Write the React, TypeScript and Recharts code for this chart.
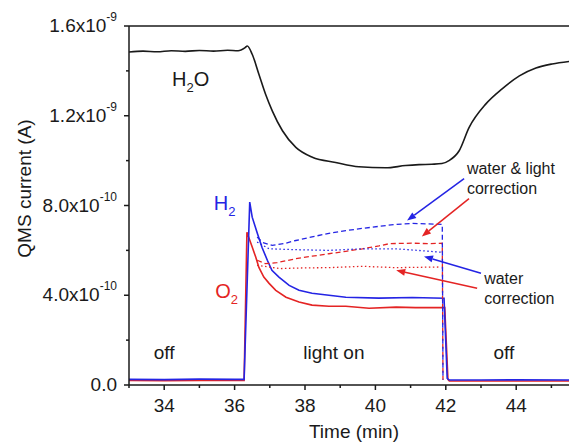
import React from 'react'
import { LineChart, Line, XAxis, YAxis, ReferenceLine, ReferenceDot, Label } from 'recharts'

const FONT = '"Liberation Sans", Arial, sans-serif'
const BLUE = '#2424e4'
const RED = '#e42424'
const INK = '#1a1a1a'

// axes: time in min, current in units of 1e-10 A
const X_TICKS = [33, 34, 35, 36, 37, 38, 39, 40, 41, 42, 43, 44, 45]
const Y_TICKS = [0, 2, 4, 6, 8, 10, 12, 14, 16]
const Y_LABELS: Record<number, [string, string]> = {
  0: ['0.0', ''], 4: ['4.0x10', '-10'], 8: ['8.0x10', '-10'], 12: ['1.2x10', '-9'], 16: ['1.6x10', '-9'],
}

// H2O
const h2oT = [33, 33.4, 33.8, 34.2, 34.6, 35.0, 35.4, 35.8, 36.1, 36.3, 36.36, 36.5, 36.69, 36.88, 37.07, 37.36, 37.74, 38.21, 38.87, 39.53, 40.29, 40.86, 41.24, 41.6, 41.89, 42.09, 42.38, 42.66, 43.14, 43.6, 44.09, 44.56, 45.02, 45.5]
const h2oV = [14.84, 14.88, 14.85, 14.9, 14.87, 14.91, 14.88, 14.92, 14.9, 15.04, 15.11, 14.74, 13.85, 12.96, 12.22, 11.33, 10.59, 10.15, 9.92, 9.73, 9.68, 9.78, 9.82, 9.84, 9.87, 10.0, 10.44, 11.47, 12.53, 13.2, 13.78, 14.13, 14.31, 14.42]

// H2 raw
const h2T = [33, 34, 35, 36, 36.27, 36.43, 36.5, 36.65, 36.78, 36.93, 37.06, 37.26, 37.55, 37.83, 38.2, 38.68, 39.16, 40.1, 41.05, 41.95, 42.04, 42.1, 43, 44, 45.5]
const h2V = [0.25, 0.24, 0.26, 0.25, 0.25, 8.15, 7.48, 6.74, 6.13, 5.56, 5.11, 4.81, 4.44, 4.22, 4.09, 4.0, 3.91, 3.87, 3.9, 3.87, 0.3, 0.22, 0.22, 0.23, 0.22]

// O2 raw
const o2T = [33, 34, 35, 36, 36.27, 36.35, 36.5, 36.6, 36.69, 36.83, 36.98, 37.17, 37.46, 37.83, 38.2, 38.68, 39.16, 39.82, 40.59, 41.14, 41.97, 42.06, 42.1, 43, 44, 45.5]
const o2V = [0.2, 0.19, 0.2, 0.2, 0.2, 6.81, 6.15, 5.7, 5.24, 4.81, 4.53, 4.22, 3.91, 3.7, 3.56, 3.51, 3.51, 3.42, 3.47, 3.45, 3.45, 0.25, 0.18, 0.18, 0.18, 0.18]

// water & light correction
const h2wlT = [36.64, 36.8, 37.07, 37.4, 37.74, 38.2, 38.68, 39.16, 39.63, 40.1, 40.58, 41.04, 41.5, 41.9, 41.92]
const h2wlV = [6.59, 6.35, 6.22, 6.3, 6.44, 6.6, 6.76, 6.88, 6.98, 7.07, 7.16, 7.2, 7.18, 7.16, 0.25]
const o2wlT = [36.64, 36.87, 37.2, 37.74, 38.2, 38.68, 39.16, 39.63, 40.1, 40.4, 41.04, 41.5, 41.9, 41.92]
const o2wlV = [5.56, 5.41, 5.45, 5.63, 5.74, 5.85, 5.96, 6.07, 6.2, 6.3, 6.32, 6.3, 6.32, 0.22]

// water correction
const h2wT = [36.64, 36.98, 37.74, 38.68, 39.63, 40.58, 41.2, 41.86]
const h2wV = [6.37, 6.07, 6.03, 6.0, 6.07, 6.07, 6.0, 5.92]
const o2wT = [36.64, 37.3, 38.0, 38.68, 39.63, 40.58, 41.86]
const o2wV = [5.33, 5.19, 5.22, 5.23, 5.29, 5.23, 5.26]

const zip = (t: number[], v: number[]) => t.map((x, i) => ({ t: x, v: v[i] }))

const TICK = 5
const MARGIN_Y = 7
const MARGIN_X = 8

const YTick = (p: any) => {
  const v = p.payload.value
  const ax = p.x + TICK + MARGIN_Y
  const major = v % 4 === 0
  const lab = Y_LABELS[v]
  return (
    <g>
      <line x1={ax - (major ? TICK : 3)} x2={ax} y1={p.y} y2={p.y} stroke={INK} strokeWidth={1.5} />
      {lab && (
        <text x={p.x} y={p.y + 6} textAnchor="end" fontFamily={FONT} fontSize={19} fill={INK}>
          {lab[0]}
          {lab[1] && <tspan dy={-11} fontSize={12}>{lab[1]}</tspan>}
        </text>
      )}
    </g>
  )
}

const XTick = (p: any) => {
  const v = p.payload.value
  const ay = p.y - TICK - MARGIN_X
  const major = v % 2 === 0
  return (
    <g>
      <line x1={p.x} x2={p.x} y1={ay} y2={ay + (major ? TICK : 3)} stroke={INK} strokeWidth={1.5} />
      {major && (
        <text x={p.x} y={p.y + 14} textAnchor="middle" fontFamily={FONT} fontSize={19} fill={INK}>{v}</text>
      )}
    </g>
  )
}

const note = (key: string, t: number, v: number, body: React.ReactNode, color = INK, size = 19, anchor = 'middle') => (
  <ReferenceDot key={key} x={t} y={v} r={0} ifOverflow="visible"
    shape={(p: any) => (
      <text x={p.cx} y={p.cy + size * 0.35} textAnchor={anchor} fontFamily={FONT} fontSize={size} fill={color}>{body}</text>
    )} />
)

const arrowShape = (color: string) => (p: any) => {
  const { x1, y1, x2, y2 } = p
  const a = Math.atan2(y2 - y1, x2 - x1)
  const L = 9, W = 3.5
  const bx = x2 - L * Math.cos(a), by = y2 - L * Math.sin(a)
  const pts = `${x2},${y2} ${bx - W * Math.sin(a)},${by + W * Math.cos(a)} ${bx + W * Math.sin(a)},${by - W * Math.cos(a)}`
  return (
    <g>
      <line x1={x1} y1={y1} x2={bx} y2={by} stroke={color} strokeWidth={1.5} />
      <polygon points={pts} fill={color} />
    </g>
  )
}

const arrow = (key: string, from: [number, number], to: [number, number], color: string) => (
  <ReferenceLine key={key} ifOverflow="visible"
    segment={[{ x: from[0], y: from[1] }, { x: to[0], y: to[1] }]}
    shape={arrowShape(color)} />
)

const sub = (a: string, b: string, c = '') => (
  <>
    {a}<tspan dy={6} fontSize={13}>{b}</tspan>{c && <tspan dy={-6}>{c}</tspan>}
  </>
)

export default function App() {
  return (
    <div style={{ position: 'absolute', left: 0, top: 0, background: '#fff' }}>
      <LineChart width={569} height={443} margin={{ top: 26, right: 0, bottom: 0, left: 0 }}>
        <XAxis type="number" dataKey="t" domain={[33, 45.5]} ticks={X_TICKS} interval={0}
          allowDataOverflow tickLine={false} tickSize={TICK} tickMargin={MARGIN_X} height={58}
          axisLine={{ stroke: INK, strokeWidth: 1.5 }} tick={<XTick />}>
          <Label content={(p: any) => (
            <text x={p.viewBox.x + p.viewBox.width / 2 + 5} y={p.viewBox.y + 53} textAnchor="middle"
              fontFamily={FONT} fontSize={19} fill={INK}>Time (min)</text>
          )} />
        </XAxis>
        <YAxis type="number" dataKey="v" domain={[0, 16]} ticks={Y_TICKS} interval={0}
          allowDataOverflow tickLine={false} tickSize={TICK} tickMargin={MARGIN_Y} width={129}
          axisLine={{ stroke: INK, strokeWidth: 1.5 }} tick={<YTick />}>
          <Label content={(p: any) => {
            const cx = p.viewBox.x + 24, cy = p.viewBox.y + p.viewBox.height / 2 - 17
            return (
              <text x={cx} y={cy} transform={`rotate(-90 ${cx} ${cy})`} textAnchor="middle" dominantBaseline="central"
                fontFamily={FONT} fontSize={19} fill={INK}>QMS current (A)</text>
            )
          }} />
        </YAxis>
        <ReferenceLine y={16} stroke={INK} strokeWidth={1.5} />

        <Line data={zip(h2oT, h2oV)} dataKey="v" type="monotone" stroke={INK} strokeWidth={1.6} dot={false} isAnimationActive={false} />
        <Line data={zip(o2T, o2V)} dataKey="v" type="linear" stroke={RED} strokeWidth={1.6} dot={false} isAnimationActive={false} />
        <Line data={zip(h2T, h2V)} dataKey="v" type="linear" stroke={BLUE} strokeWidth={1.6} dot={false} isAnimationActive={false} />
        <Line data={zip(o2wlT, o2wlV)} dataKey="v" type="linear" stroke={RED} strokeWidth={1.3} strokeDasharray="5 3" dot={false} isAnimationActive={false} />
        <Line data={zip(h2wlT, h2wlV)} dataKey="v" type="linear" stroke={BLUE} strokeWidth={1.3} strokeDasharray="5 3" dot={false} isAnimationActive={false} />
        <Line data={zip(o2wT, o2wV)} dataKey="v" type="linear" stroke={RED} strokeWidth={1.3} strokeDasharray="1.5 2.5" dot={false} isAnimationActive={false} />
        <Line data={zip(h2wT, h2wV)} dataKey="v" type="linear" stroke={BLUE} strokeWidth={1.3} strokeDasharray="1.5 2.5" dot={false} isAnimationActive={false} />

        {arrow('a1', [42.52, 9.2], [40.9, 7.33], BLUE)}
        {arrow('a2', [42.66, 8.31], [41.32, 6.62], RED)}
        {arrow('a3', [43.0, 4.98], [41.38, 5.73], BLUE)}
        {arrow('a4', [42.89, 4.31], [40.59, 5.11], RED)}

        {note('n1', 34.22, 13.64, sub('H', '2', 'O'), INK, 20, 'start')}
        {note('n2', 35.41, 8.09, sub('H', '2'), BLUE, 20, 'start')}
        {note('n3', 35.45, 4.18, sub('O', '2'), RED, 20, 'start')}
        {note('n4', 34.0, 1.45, 'off')}
        {note('n5', 38.82, 1.45, 'light on')}
        {note('n6', 43.65, 1.45, 'off')}
        {note('n7', 42.6, 9.64, 'water & light', INK, 16, 'start')}
        {note('n8', 42.6, 8.76, 'correction', INK, 16, 'start')}
        {note('n9', 43.09, 4.76, 'water', INK, 16, 'start')}
        {note('n10', 43.09, 3.87, 'correction', INK, 16, 'start')}
      </LineChart>
    </div>
  )
}
